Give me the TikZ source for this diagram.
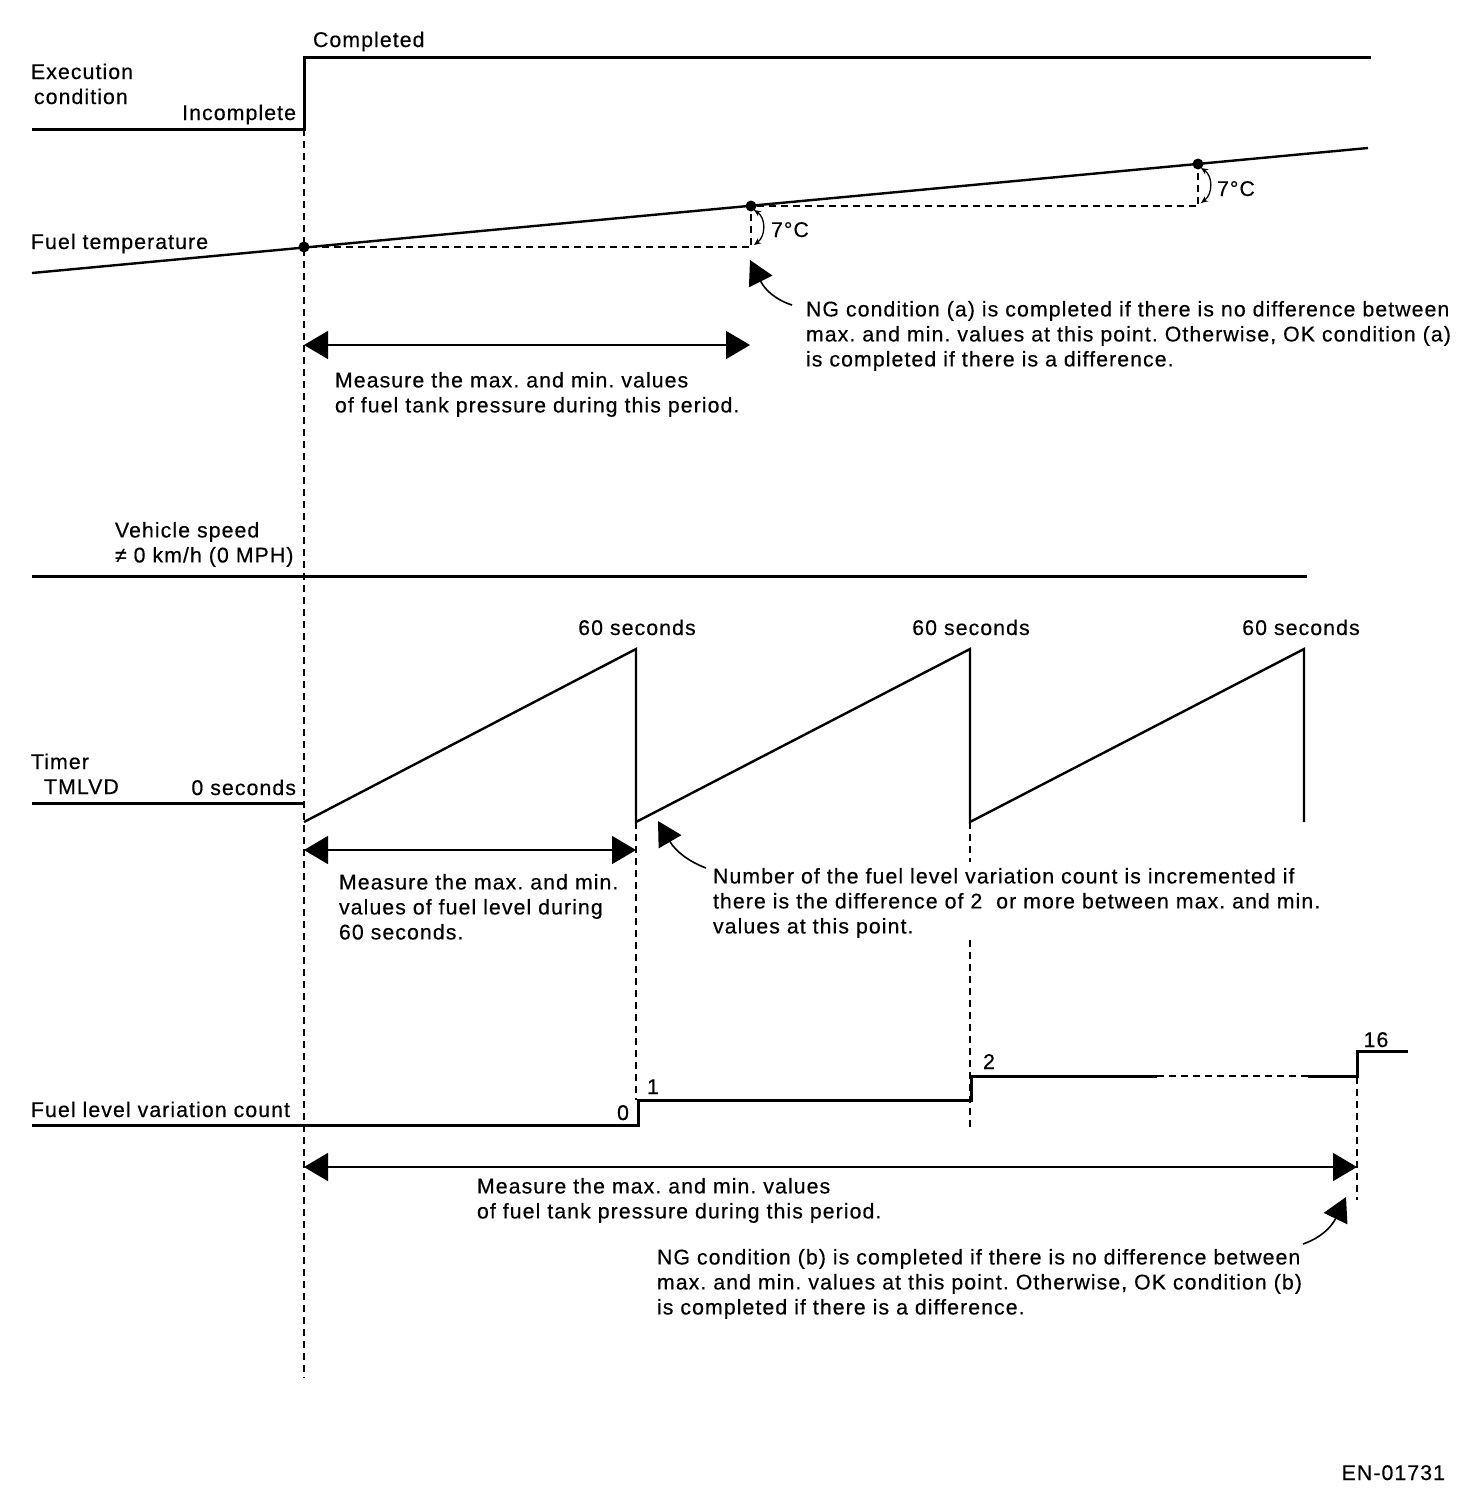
\documentclass[tikz,border=0pt]{standalone}
\usepackage{fontspec}
\setmainfont[LetterSpace=5,FakeBold=0.4]{Liberation Sans}
\usetikzlibrary{arrows.meta}
\frenchspacing
\begin{document}
\begin{tikzpicture}[x=1pt,y=-1pt,
  every node/.style={inner sep=0pt,outer sep=0pt,font=\fontsize{21.3}{25}\selectfont},
  sig/.style={line width=3pt},
  sigthin/.style={line width=2.4pt},
  guide/.style={line width=1.3pt,dash pattern=on 7pt off 5pt},
  span/.style={line width=1.6pt,{Triangle[length=24pt,width=28pt]}-{Triangle[length=24pt,width=28pt]}},
  pointer/.style={line width=1.6pt,-{Triangle[length=24pt,width=26pt]}},
  delta/.style={line width=1.3pt,{Stealth[length=7pt,width=6pt]}-{Stealth[length=7pt,width=6pt]}},
  lbl/.style={anchor=base west},
  lblr/.style={anchor=base east},
  blk/.style={anchor=north west,align=left},
  dot/.style={circle,fill=black,minimum size=11pt,inner sep=0pt}
]
\useasboundingbox (0,0) rectangle (1472,1502);

% main vertical guide
\draw[guide] (304,129) -- (304,1378);

% Execution condition
\draw[sig] (32,129) -- (304,129) -- (304,57) -- (1371,57);
\node[lbl] (completed) at (313,47) {Completed};
\node[lbl] (exec1) at (31,79) {Execution};
\node[lbl] (exec2) at (34,104) {condition};
\node[lblr] (incomplete) at (296,120) {Incomplete};

% Fuel temperature
\draw[sigthin] (32,273) -- (1368,148);
\node[dot] (t0) at (304,247) {};
\node[dot] (t1) at (751,206) {};
\node[dot] (t2) at (1198,164) {};
\coordinate (t1b) at (751,247);
\coordinate (t2b) at (1198,206);
\draw[guide] (t0) -- (t1b) -- (t1);
\draw[guide] (t1) -- (t2b) -- (t2);
\draw[delta] (754,210) .. controls (766,218) and (766,236) .. (754,245);
\draw[delta] (1201,168) .. controls (1213,176) and (1213,194) .. (1201,203);
\node[lbl] (d1) at (771,237) {7°C};
\node[lbl] (d2) at (1217,196) {7°C};
\node[lbl] (ftemp) at (31,249) {Fuel temperature};

% pointer (a)
\coordinate (pa) at (750,260);
\draw[pointer] (792,305) .. controls (776,300) and (765,290) .. (pa);
\node[blk] (nga) at (806,301) {NG condition (a) is completed if there is no difference between\\max. and min. values at this point. Otherwise, OK condition (a)\\is completed if there is a difference.};

% measure (a)
\coordinate (ma0) at (304,345);
\coordinate (ma1) at (750,345);
\draw[span] (ma0) -- (ma1);
\node[blk] (measa) at (335,372) {Measure the max. and min. values\\of fuel tank pressure during this period.};

% Vehicle speed
\node[blk] (vs) at (115,522) {Vehicle speed\\≠ 0 km/h (0 MPH)};
\draw[sig] (32,576) -- (1307,576);

% Timer
\node[lbl] (timer1) at (31,769) {Timer};
\node[lbl] (timer2) at (44,794) {TMLVD};
\node[lblr] (zero) at (296,795) {0 seconds};
\draw[sig] (32,803) -- (304,803);
\draw[sigthin] (304,822) -- (636,649) -- (636,822) -- (970,649) -- (970,822) -- (1304,649) -- (1304,822);
\node[anchor=base] (s1) at (637,635) {60 seconds};
\node[anchor=base] (s2) at (971,635) {60 seconds};
\node[anchor=base] (s3) at (1301,635) {60 seconds};

% guides
\draw[guide] (636,822) -- (636,1100);
\draw[guide] (970,822) -- (970,862);
\draw[guide] (970,940) -- (970,1128);
\draw[guide] (1357,1077) -- (1357,1200);

% measure fuel level
\coordinate (mb0) at (304,850);
\coordinate (mb1) at (636,850);
\draw[span] (mb0) -- (mb1);
\node[blk] (measb) at (339,874) {Measure the max. and min.\\values of fuel level during\\60 seconds.};

% pointer timer
\coordinate (pt) at (658,821);
\draw[pointer] (706,868) .. controls (690,862) and (676,852) .. (pt);
\node[blk] (num) at (713,868) {Number of the fuel level variation count is incremented if\\there is the difference of 2~ or more between max. and min.\\values at this point.};

% Fuel level variation count
\node[lbl] (flvc) at (31,1117) {Fuel level variation count};
\draw[sig] (32,1125) -- (638,1125) -- (638,1100) -- (971,1100) -- (971,1076) -- (1157,1076);
\draw[guide] (1157,1076) -- (1308,1076);
\draw[sig] (1308,1076) -- (1357,1076) -- (1357,1051) -- (1408,1051);
\node[anchor=base] (c0) at (623,1120) {0};
\node[anchor=base] (c1) at (653,1094) {1};
\node[anchor=base] (c2) at (989,1069) {2};
\node[anchor=base] (c16) at (1376,1047) {16};

% measure (b)
\coordinate (mc0) at (304,1167);
\coordinate (mc1) at (1357,1167);
\draw[span] (mc0) -- (mc1);
\node[blk] (measc) at (477,1178) {Measure the max. and min. values\\of fuel tank pressure during this period.};

% pointer (b)
\coordinate (pb) at (1346,1197);
\draw[pointer] (1303,1244) .. controls (1320,1238) and (1331,1228) .. (pb);
\node[blk] (ngb) at (657,1249) {NG condition (b) is completed if there is no difference between\\max. and min. values at this point. Otherwise, OK condition (b)\\is completed if there is a difference.};

\node[lblr] (code) at (1445,1480) {EN-01731};
\end{tikzpicture}
\end{document}
